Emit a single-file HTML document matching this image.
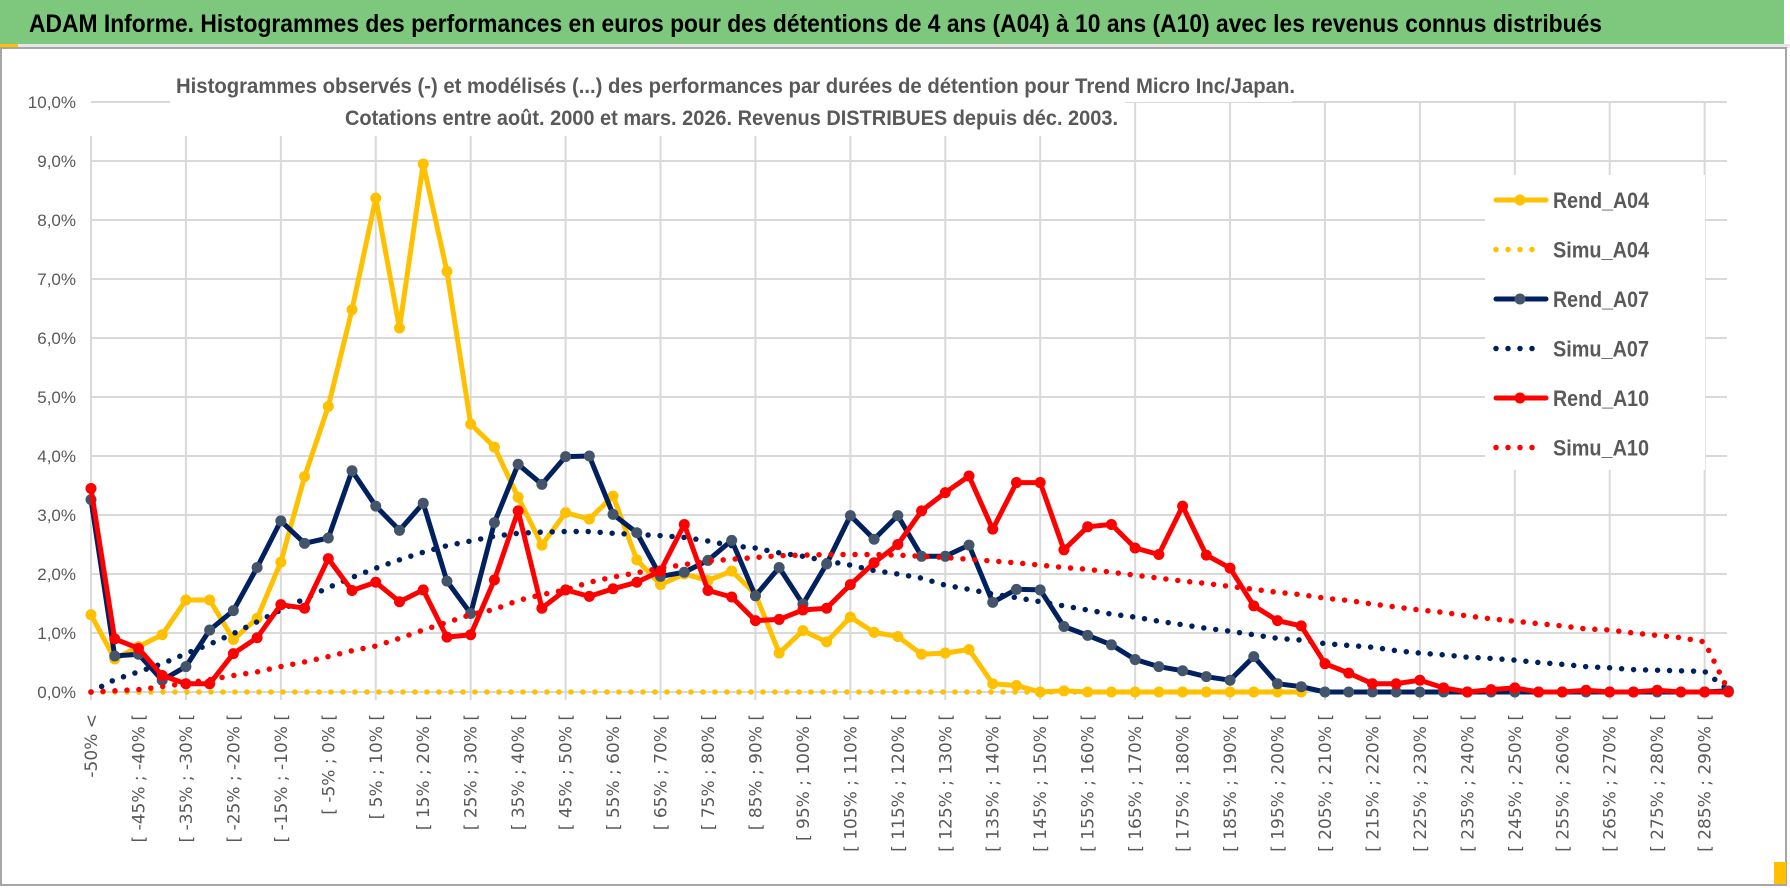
<!DOCTYPE html>
<html><head><meta charset="utf-8"><style>
html,body{margin:0;padding:0;background:#fff;}
svg{display:block;font-family:"Liberation Sans",sans-serif;}
</style></head><body>
<svg id="chart" width="1790" height="888" viewBox="0 0 1790 888" xmlns="http://www.w3.org/2000/svg">
<rect x="0" y="0" width="1790" height="888" fill="#fff"/>
<rect x="0" y="0" width="1784" height="46" fill="#7DC87D"/>
<rect x="0" y="44" width="1790" height="4" fill="#e6e6e6"/>
<rect x="1" y="48" width="1785" height="837" fill="none" stroke="#a6a6a6" stroke-width="2"/>
<rect x="0" y="44" width="18" height="3" fill="#FFC000"/>
<rect x="1774" y="862" width="12" height="22" fill="#FFC000"/>
<text x="29" y="32" font-size="25" font-weight="bold" fill="#000" textLength="1573" lengthAdjust="spacingAndGlyphs">ADAM Informe. Histogrammes des performances en euros pour des détentions de 4 ans (A04) à 10 ans (A10) avec les revenus connus distribués</text>
<g id="grid"></g>
<rect x="170" y="55" width="1122" height="47" fill="#fff"/>
<rect x="170" y="100" width="955" height="36" fill="#fff"/>
<text x="176" y="93" font-size="21" font-weight="bold" fill="#595959" textLength="1119" lengthAdjust="spacingAndGlyphs">Histogrammes observés (-) et modélisés (...) des performances par durées de détention pour Trend Micro Inc/Japan.</text>
<text x="345" y="125" font-size="21" font-weight="bold" fill="#595959" textLength="773" lengthAdjust="spacingAndGlyphs">Cotations entre août. 2000 et mars. 2026. Revenus DISTRIBUES depuis déc. 2003.</text>
<g id="yaxis"></g>
<g id="xaxis"></g>
<g id="series"></g>
<rect x="1485" y="175" width="220" height="295" fill="#fff"/>
<g id="legend"></g>
</svg>
<script>
const yTicks=[0,1,2,3,4,5,6,7,8,9,10];
const rendA04=[1.31,0.56,0.77,0.97,1.56,1.56,0.89,1.25,2.2,3.65,4.84,6.48,8.37,6.17,8.95,7.13,4.54,4.15,3.3,2.49,3.04,2.93,3.32,2.24,1.82,2.0,1.89,2.05,1.66,0.66,1.04,0.85,1.27,1.01,0.94,0.64,0.66,0.72,0.14,0.11,0,0.02,0,0,0,0,0,0,0,0,0,0];
const simuA04=[0,0,0,0,0,0,0,0,0,0,0,0,0,0,0,0,0,0,0,0,0,0,0,0,0,0,0,0,0,0,0,0,0,0,0,0,0,0,0,0,0,0,0,0,0,0,0,0,0,0,0,0];
const rendA07=[3.26,0.61,0.64,0.2,0.43,1.05,1.38,2.11,2.9,2.52,2.61,3.75,3.15,2.74,3.2,1.88,1.33,2.87,3.86,3.52,3.99,4.0,3.01,2.7,1.96,2.03,2.23,2.57,1.63,2.11,1.49,2.17,2.99,2.59,2.99,2.3,2.3,2.49,1.52,1.74,1.73,1.11,0.96,0.8,0.55,0.43,0.36,0.26,0.2,0.6,0.14,0.09,0,0,0,0,0,0,0,0,0,0,0,0,0,0,0,0,0,0.02];
const simuA07=[0,0.21,0.34,0.48,0.65,0.81,0.99,1.19,1.39,1.58,1.77,1.94,2.1,2.24,2.37,2.48,2.56,2.64,2.69,2.71,2.72,2.72,2.69,2.67,2.65,2.62,2.56,2.48,2.44,2.36,2.3,2.22,2.15,2.06,2.0,1.93,1.81,1.74,1.66,1.6,1.53,1.46,1.39,1.32,1.27,1.2,1.14,1.08,1.03,0.97,0.91,0.88,0.82,0.79,0.76,0.7,0.66,0.63,0.59,0.57,0.54,0.5,0.47,0.43,0.41,0.38,0.37,0.36,0.35,0.03];
const rendA10=[3.45,0.9,0.74,0.28,0.14,0.14,0.65,0.92,1.48,1.42,2.26,1.72,1.86,1.53,1.73,0.93,0.97,1.9,3.07,1.42,1.73,1.62,1.75,1.86,2.05,2.84,1.72,1.61,1.21,1.23,1.39,1.42,1.82,2.19,2.5,3.07,3.38,3.66,2.76,3.55,3.55,2.41,2.8,2.84,2.44,2.33,3.15,2.32,2.1,1.46,1.21,1.12,0.48,0.32,0.14,0.14,0.2,0.07,0,0.04,0.07,0,0,0.03,0,0,0.03,0,0,0];
const simuA10=[0,0.02,0.04,0.09,0.15,0.21,0.28,0.34,0.43,0.51,0.6,0.7,0.78,0.91,1.05,1.18,1.31,1.4,1.55,1.65,1.73,1.86,1.95,2.02,2.1,2.16,2.22,2.25,2.28,2.31,2.32,2.33,2.33,2.33,2.32,2.3,2.28,2.25,2.22,2.19,2.15,2.11,2.08,2.03,1.98,1.93,1.88,1.84,1.79,1.74,1.69,1.65,1.59,1.55,1.49,1.44,1.39,1.35,1.29,1.24,1.2,1.16,1.12,1.07,1.05,1.0,0.96,0.92,0.85,0.02];
const categories=['-50% <'];
for(let i=1;i<70;i++){const a=-50+5*(i-1);categories.push('[ '+a+'% ; '+(a+5)+'% [');}

const NS='http://www.w3.org/2000/svg';
const X0=91,DX=23.73,Y0=692,DY=59,XR=1727;
function xs(i){return X0+DX*i;}
function ys(v){return Y0-DY*v;}
function mk(tag,attrs,parent){const e=document.createElementNS(NS,tag);for(const k in attrs)e.setAttribute(k,attrs[k]);parent.appendChild(e);return e;}

const grid=document.getElementById('grid');
yTicks.forEach(t=>{
  const l=mk('line',{x1:X0,x2:XR,y1:ys(t),y2:ys(t),stroke:'#d9d9d9','stroke-width':2},grid);
  
  
});
for(let i=0;i<=69;i+=4){
  const top = (xs(i)>1125)?ys(10):136;
  const l=mk('line',{x1:xs(i),x2:xs(i),y1:top,y2:Y0+8,stroke:'#d9d9d9','stroke-width':2},grid);
  
  
}
const yax=document.getElementById('yaxis');
yTicks.forEach(t=>{
  const tx=mk('text',{x:76,y:ys(t)+6,'font-size':17,fill:'#595959','text-anchor':'end'},yax);
  tx.textContent=t.toFixed(1).replace('.',',')+'%';
  
  
});
const xax=document.getElementById('xaxis');
categories.forEach((c,i)=>{
  if(i%2)return;
  const x=xs(i)+6,y=714;
  const tx=mk('text',{x:x,y:y,'font-size':17,'font-family':'"DejaVu Sans",sans-serif',fill:'#595959','text-anchor':'end',transform:'rotate(-90 '+x+' '+y+')'},xax);
  tx.textContent=c;
  
  
});
const ser=document.getElementById('series');
function pts(arr){return arr.map((v,i)=>xs(i).toFixed(1)+','+ys(v).toFixed(1)).join(' ');}
function dotted(arr,color,name){
  const p=mk('polyline',{points:pts(arr),fill:'none',stroke:color,'stroke-width':5.5,'stroke-linecap':'round','stroke-dasharray':'0 12'},ser);
  
  
}
function solid(arr,color,mcolor,name){
  const g=mk('g',{},ser);
  
  
  mk('polyline',{points:pts(arr),fill:'none',stroke:color,'stroke-width':5,'stroke-linejoin':'round'},g);
  arr.forEach((v,i)=>{
    const c=mk('circle',{cx:xs(i),cy:ys(v),r:5.5,fill:mcolor},g);
    
    
  });
}
dotted(simuA04,'#FFC000','simu-a04-line');
solid(rendA04,'#FFC000','#FFC000','rend-a04-line');
dotted(simuA07,'#002060','simu-a07-line');
solid(rendA07,'#002060','#44546A','rend-a07-line');
dotted(simuA10,'#FF0000','simu-a10-line');
solid(rendA10,'#FF0000','#FF0000','rend-a10-line');

const leg=document.getElementById('legend');
const legItems=[['Rend_A04','#FFC000','#FFC000',false],['Simu_A04','#FFC000','#FFC000',true],['Rend_A07','#002060','#44546A',false],['Simu_A07','#002060','#002060',true],['Rend_A10','#FF0000','#FF0000',false],['Simu_A10','#FF0000','#FF0000',true]];
legItems.forEach((it,k)=>{
  const y=200+49.5*k;
  const g=mk('g',{},leg);
  
  
  if(it[3]){
    mk('line',{x1:1496,x2:1540,y1:y,y2:y,stroke:it[1],'stroke-width':5.5,'stroke-linecap':'round','stroke-dasharray':'0 12'},g);
  }else{
    mk('line',{x1:1496,x2:1546,y1:y,y2:y,stroke:it[1],'stroke-width':5,'stroke-linecap':'round'},g);
    mk('circle',{cx:1520,cy:y,r:5.5,fill:it[2]},g);
  }
  const t=mk('text',{x:1553,y:y+8,'font-size':22,'font-weight':'bold',fill:'#595959',textLength:96,lengthAdjust:'spacingAndGlyphs'},g);
  t.textContent=it[0];
});
</script>
</body></html>
